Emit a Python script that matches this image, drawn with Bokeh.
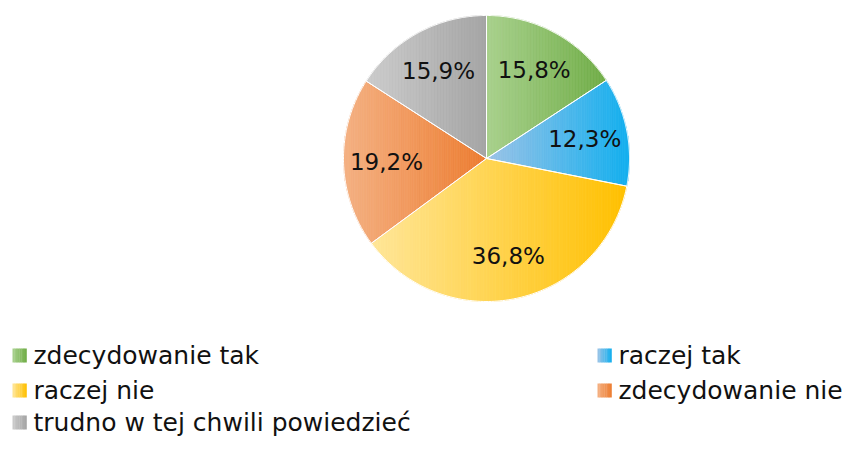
import numpy as np
from bokeh.plotting import figure
from bokeh.models import Range1d
from bokeh.core.properties import value
from bokeh.embed import file_html
from bokeh.resources import INLINE

# ---- data ----
categories = ["zdecydowanie tak", "raczej tak", "raczej nie",
              "zdecydowanie nie", "trudno w tej chwili powiedzieć"]
values = [15.8, 12.3, 36.8, 19.2, 15.9]
light_colors = ["#A9D18E", "#9DC3E6", "#FFE699", "#F4B183", "#CBCBCB"]
dark_colors = ["#70AD47", "#12AFEF", "#FFC000", "#ED7D31", "#A5A5A5"]

FONT = "DejaVu Sans"
W, H = 843, 437
p = figure(width=W, height=H, x_range=Range1d(0, W), y_range=Range1d(H, 0),
           output_backend="svg", toolbar_location=None,
           x_axis_type=None, y_axis_type=None, min_border=0)
p.outline_line_color = None
p.grid.visible = False
p.background_fill_color = "white"


def hex2rgb(h):
    h = h.lstrip("#")
    return np.array([int(h[i:i + 2], 16) for i in (0, 2, 4)], dtype=float)


def mix(c1, c2, t):
    a, b = hex2rgb(c1), hex2rgb(c2)
    c = a + (b - a) * t
    return "#%02x%02x%02x" % tuple(int(round(v)) for v in c)


def clip_x(pts, xc, keep_greater):
    out = []
    n = len(pts)
    for i in range(n):
        a = pts[i]
        b = pts[(i + 1) % n]
        ina = a[0] >= xc if keep_greater else a[0] <= xc
        inb = b[0] >= xc if keep_greater else b[0] <= xc
        if ina:
            out.append(a)
        if ina != inb:
            t = (xc - a[0]) / (b[0] - a[0])
            out.append((xc, a[1] + t * (b[1] - a[1])))
    return out


cx, cy, R = 486, 158, 143
total = sum(values)
fr = np.cumsum([0] + values) / total

strip_xs, strip_ys, strip_cols = [], [], []
slice_xs, slice_ys = [], []
lab_x, lab_y, lab_t = [], [], []
NS = 80
for i, v in enumerate(values):
    a0, a1 = fr[i] * 2 * np.pi, fr[i + 1] * 2 * np.pi
    th = np.linspace(a0, a1, 120)
    pts = [(cx, cy)] + [(cx + R * np.sin(t), cy - R * np.cos(t)) for t in th]
    slice_xs.append([q[0] for q in pts])
    slice_ys.append([q[1] for q in pts])
    xmin = min(q[0] for q in pts)
    xmax = max(q[0] for q in pts)
    edges = np.linspace(xmin, xmax, NS + 1)
    for k in range(NS):
        poly = clip_x(pts, edges[k], True)
        if len(poly) < 3:
            continue
        poly = clip_x(poly, edges[k + 1], False)
        if len(poly) < 3:
            continue
        strip_xs.append([q[0] for q in poly])
        strip_ys.append([q[1] for q in poly])
        strip_cols.append(mix(light_colors[i], dark_colors[i], (k + 0.5) / NS))
    mid = (a0 + a1) / 2
    lab_x.append(cx + 0.7 * R * np.sin(mid))
    lab_y.append(cy - 0.7 * R * np.cos(mid))
    lab_t.append(("%.1f%%" % v).replace(".", ","))

p.patches(strip_xs, strip_ys, fill_color=strip_cols, line_color=strip_cols, line_width=0.8)
p.patches(slice_xs, slice_ys, fill_alpha=0, line_color="white", line_width=1)
p.text(lab_x, lab_y, text=lab_t, text_font=value(FONT), text_font_size="23px",
       text_align="center", text_baseline="middle", text_color="#111111")

# ---- legend ----
leg_pos = [(12, 355), (597, 355), (12, 390), (597, 390), (12, 422)]
lq_l, lq_r, lq_t, lq_b, lq_c = [], [], [], [], []
lt_x, lt_y = [], []
NL = 8
for i, (lx, ly) in enumerate(leg_pos):
    for k in range(NL):
        lq_l.append(lx + 14 * k / NL)
        lq_r.append(lx + 14 * (k + 1) / NL + 0.3)
        lq_t.append(ly - 7)
        lq_b.append(ly + 7)
        lq_c.append(mix(light_colors[i], dark_colors[i], (k + 0.5) / NL))
    lt_x.append(lx + 21)
    lt_y.append(ly)
p.quad(left=lq_l, right=lq_r, top=lq_t, bottom=lq_b, fill_color=lq_c, line_color=None)
p.text(lt_x, lt_y, text=categories, text_font=value(FONT), text_font_size="25px",
       text_align="left", text_baseline="middle", text_color="#111111")

open("out.html", "w").write(file_html(p, INLINE))
